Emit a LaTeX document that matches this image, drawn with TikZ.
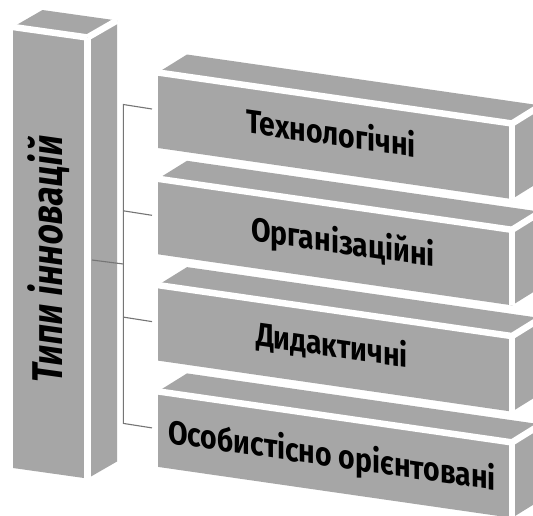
\documentclass[tikz,border=0pt]{standalone}
\usepackage{fontspec}
\setmainfont{Fira Sans}
\newfontfamily\boxfont[FakeStretch=0.86]{Fira Sans}
\newfontfamily\colfont[FakeStretch=0.81]{Fira Sans}
\definecolor{boxgray}{HTML}{A6A6A6}
\definecolor{linegray}{HTML}{757575}
\begin{document}
\begin{tikzpicture}[x=1pt,y=-1pt,
  face/.style={fill=boxgray},
  gap/.style={draw=white,line width=6.5pt,line cap=butt},
  conn/.style={draw=linegray,line width=1.1pt},
  lbl/.style={font=\boxfont\bfseries\fontsize{33}{36}\selectfont,text=black,inner sep=0pt,yslant=-0.144},
  collbl/.style={font=\colfont\bfseries\fontsize{43}{46}\selectfont,text=black,inner sep=0pt,yslant=-0.14,rotate=90}]
\useasboundingbox (0,0) rectangle (533,515);
\fill[white] (0,0) rectangle (533,515);
\clip (0,0) rectangle (533,515);

% left column
\fill[face] (13,27) -- (87.5,37.5) -- (87.5,478.5) -- (13,468) -- cycle;
\fill[face] (13,27) -- (87.5,37.5) -- (117,20.5) -- (42.5,10) -- cycle;
\fill[face] (87.5,37.5) -- (117,20.5) -- (117,461.5) -- (87.5,478.5) -- cycle;
\draw[gap] (13,27) -- (87.5,37.5);
\draw[gap] (87.5,37.5) -- (87.5,478.5);
\draw[gap] (87.5,37.5) -- (117,20.5);
\node[collbl] (col) at (48.5,259) {Типи інновацій};

% right boxes
\foreach \k in {0,1,2,3}{
  \begin{scope}[shift={(0,\k*106.3)}]
    \fill[face] (158,72.5) -- (512,123.5) -- (512,199) -- (158,148) -- cycle;
    \fill[face] (158,72.5) -- (512,123.5) -- (541,105.5) -- (187,54.5) -- cycle;
    \fill[face] (512,123.5) -- (541,105.5) -- (541,181) -- (512,199) -- cycle;
    \draw[gap] (158,72.5) -- (512,123.5);
    \draw[gap] (512,123.5) -- (512,199);
    \draw[gap] (512,123.5) -- (541,105.5);
  \end{scope}
}
\node[lbl] (t1) at (331,132) {Технологічні};
\node[lbl] (t2) at (343,244) {Організаційні};
\node[lbl] (t3) at (332,346) {Дидактичні};
\node[lbl] (t4) at (332,457) {Особистісно орієнтовані};

% connectors
\coordinate (cs) at (92,260);
\coordinate (jm) at (123.3,264);
\coordinate (j1) at (123.3,104.5);
\coordinate (j2) at (123.3,210.8);
\coordinate (j3) at (123.3,317.1);
\coordinate (j4) at (123.3,423.4);
\coordinate (e1) at (152,109);
\coordinate (e2) at (152,215.3);
\coordinate (e3) at (152,321.6);
\coordinate (e4) at (152,427.9);
\draw[conn] (e1) -- (j1) -- (j4) -- (e4);
\draw[conn] (j2) -- (e2);
\draw[conn] (j3) -- (e3);
\draw[conn] (cs) -- (jm);
\end{tikzpicture}
\end{document}
